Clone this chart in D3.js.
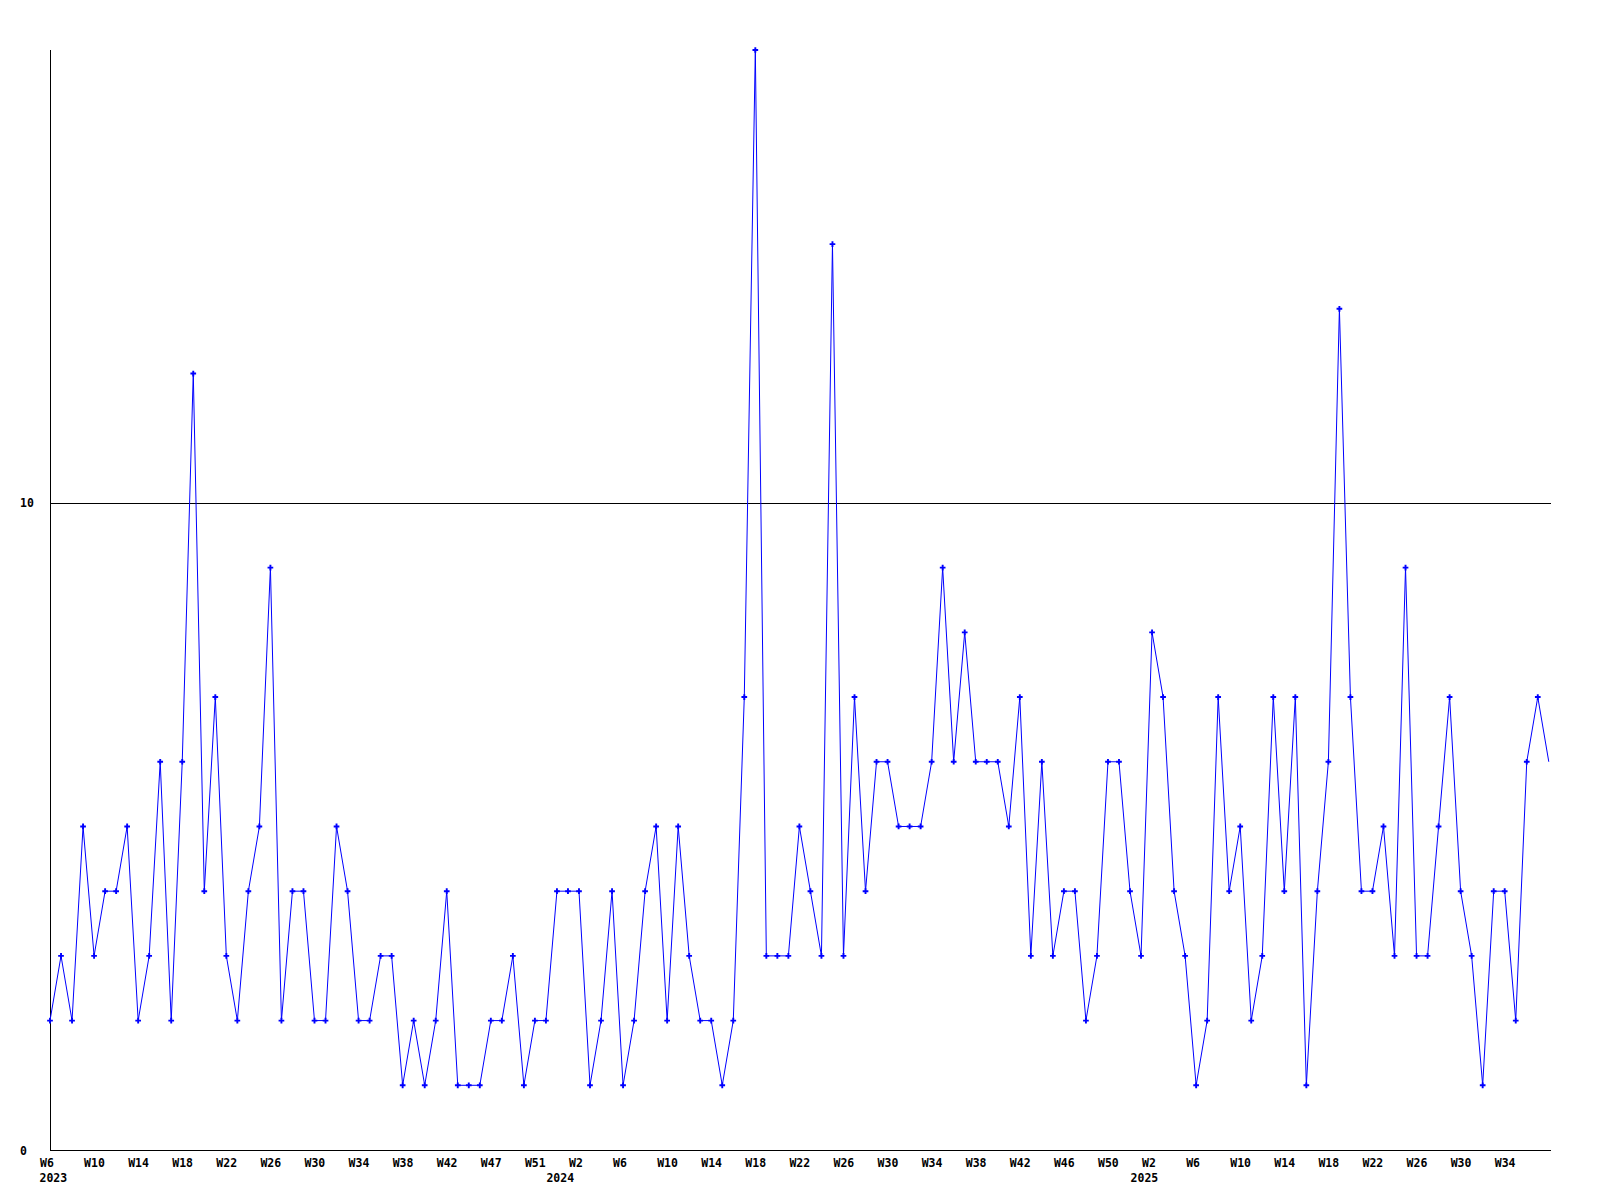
<!DOCTYPE html>
<html>
<head>
<meta charset="utf-8">
<script src="https://cdn.jsdelivr.net/npm/d3@7"></script>
<style>
  body { margin: 0; background: #fff; }
  svg text { font-family: "DejaVu Sans Mono", monospace; font-weight: bold; font-size: 11.5px; fill: #000; }
</style>
</head>
<body>
<svg id="chart" width="1600" height="1200"></svg>
<script>
// weekly counts, first point = W6 2023
const weekValues = [
    2,3,2,5,3,4,4,5,2,3,
    6,2,6,12,4,7,3,2,4,5,
    9,2,4,4,2,2,5,4,2,2,
    3,3,1,2,1,2,4,1,1,1,
    2,2,3,1,2,2,4,4,4,1,
    2,4,1,2,4,5,2,5,3,2,
    2,1,2,7,17,3,3,3,5,4,
    3,14,3,7,4,6,6,5,5,5,
    6,9,6,8,6,6,6,5,7,3,
    6,3,4,4,2,3,6,6,4,3,
    8,7,4,3,1,2,7,4,5,2,
    3,7,4,7,1,4,6,13,7,4,
    4,5,3,9,3,3,5,7,4,3,
    1,4,4,2,6,7
];
// current (partial) week, drawn as line end only
const lastValue = 6;

const tickIndex = d3.range(0, 133, 4);
const tickLabels = ["W6","W10","W14","W18","W22","W26","W30","W34","W38","W42","W47","W51",
    "W2","W6","W10","W14","W18","W22","W26","W30","W34","W38","W42","W46","W50",
    "W2","W6","W10","W14","W18","W22","W26","W30","W34"];
const yearLabels = ["2023", "2024", "2025"];
const yearAt = [0, 46, 99];
const yTicks = [0, 10];

const svg = d3.select("#chart");
const mLeft = 50, mRight = 1551, mTop = 50, mBottom = 1150;

const x = d3.scaleLinear().domain([0, 136.2]).range([mLeft, mRight]);
const y = d3.scaleLinear().domain([0, 17]).range([mBottom, mTop]);

// grid line at 10
svg.append("line")
    .attr("x1", mLeft).attr("x2", mRight)
    .attr("y1", Math.round(y(10)) + 0.5).attr("y2", Math.round(y(10)) + 0.5)
    .attr("stroke", "#000").attr("stroke-width", 1)
    .attr("shape-rendering", "crispEdges");

// axes lines
svg.append("line")
    .attr("x1", mLeft + 0.5).attr("x2", mLeft + 0.5)
    .attr("y1", mTop).attr("y2", mBottom)
    .attr("stroke", "#000").attr("shape-rendering", "crispEdges");
svg.append("line")
    .attr("x1", mLeft).attr("x2", mRight)
    .attr("y1", mBottom + 0.5).attr("y2", mBottom + 0.5)
    .attr("stroke", "#000").attr("shape-rendering", "crispEdges");

// x labels via axis (left edge sits a bit before the tick)
const xAxis = d3.axisBottom(x)
    .tickValues(tickIndex)
    .tickFormat((d, i) => tickLabels[i])
    .tickSize(0)
    .tickPadding(0);
const gx = svg.append("g").attr("transform", `translate(0,${mBottom})`).call(xAxis);
gx.select(".domain").remove();
gx.selectAll("text")
    .attr("dy", null)
    .attr("y", 17)
    .attr("x", -10.5)
    .attr("text-anchor", "start");
gx.attr("font-family", null).attr("font-size", null).attr("text-anchor", null);

// year labels
svg.selectAll(".year")
    .data(yearLabels)
    .enter()
    .append("text")
    .attr("class", "year")
    .attr("x", (d, i) => x(yearAt[i]) - 10.5)
    .attr("y", mBottom + 32)
    .attr("text-anchor", "start")
    .text(d => d);

// y labels via axis
const yAxis = d3.axisLeft(y).tickValues(yTicks).tickSize(0).tickPadding(0);
const gy = svg.append("g").attr("transform", `translate(${mLeft},0)`).call(yAxis);
gy.select(".domain").remove();
gy.selectAll("text")
    .attr("x", -30)
    .attr("text-anchor", "start")
    .attr("dy", "0.35em");
gy.attr("font-family", null).attr("font-size", null);

// line
const linePts = weekValues.map((v, i) => [i, v]).concat([[136, lastValue]]);
svg.append("path")
    .datum(linePts)
    .attr("fill", "none")
    .attr("stroke", "#0000ff")
    .attr("stroke-width", 1)
    .attr("d", d3.line().x(d => x(d[0])).y(d => y(d[1])));

// markers
svg.selectAll(".pt")
    .data(weekValues)
    .enter()
    .append("path")
    .attr("class", "pt")
    .attr("transform", (d, i) => `translate(${x(i)},${y(d)})`)
    .attr("d", d3.symbol(d3.symbolCross, 18))
    .attr("fill", "#0000ff");
</script>
</body>
</html>
